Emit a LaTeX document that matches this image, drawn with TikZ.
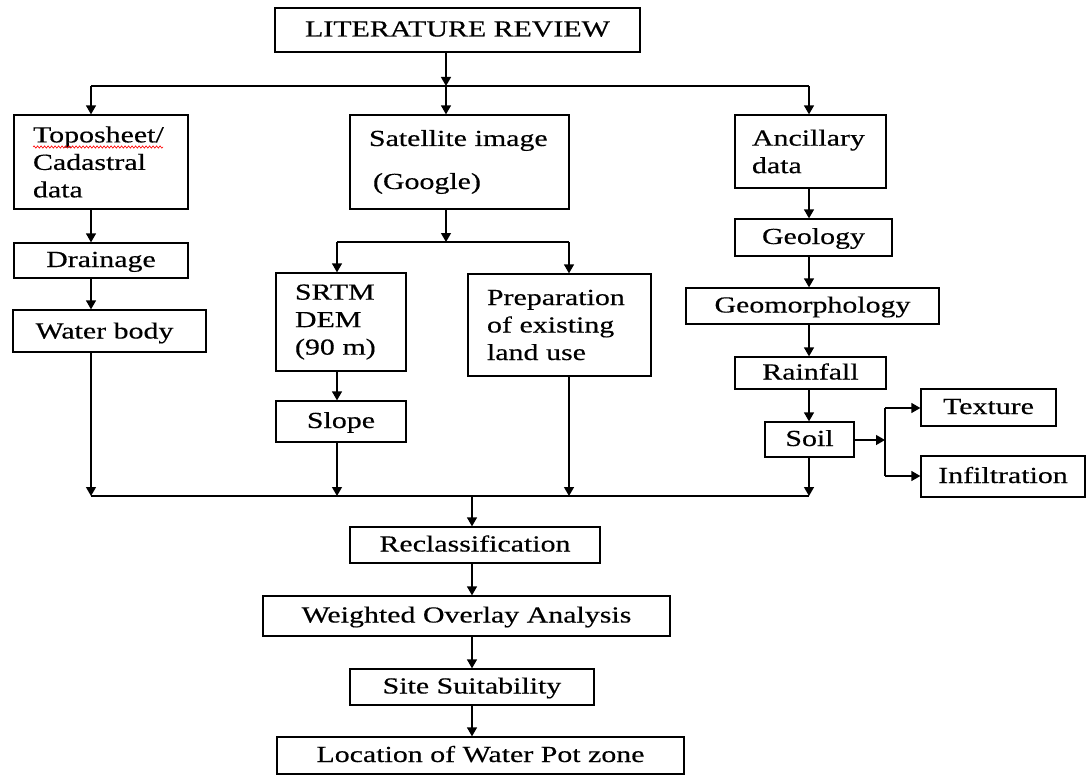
\documentclass[tikz,border=0pt]{standalone}
\usepackage{fontspec}
\setmainfont{Liberation Serif}[FakeStretch=1.3,FakeBold=0.4]
\usetikzlibrary{arrows.meta,decorations.pathmorphing}
\begin{document}
\begin{tikzpicture}[x=1pt,y=-1pt,
  frame/.style={draw, line width=1.3pt, inner sep=0pt, font=\fontsize{23}{27.5}\selectfont},
  box/.style={frame, text height=17pt, text depth=4pt},
  lbox/.style={frame, align=left, inner xsep=19pt},
  arr/.style={line width=1.3pt, -{Triangle[length=9pt,width=10pt]}},
  ln/.style={line width=1.3pt},
  squiggle/.style={red, line width=0.6pt, decorate, decoration={snake, amplitude=1.2pt, segment length=3.5pt}}]
\useasboundingbox[fill=white] (0,0) rectangle (1087,776);

% boxes
\node[box, minimum width=365pt, minimum height=44pt] (lr) at (457.5,30) {LITERATURE REVIEW};
\node[lbox, text width=136pt, minimum height=94pt] (topo) at (101,162) {Toposheet/\\Cadastral\\data};
\node[lbox, text width=181pt, minimum height=94pt] (sat) at (459.5,162) {Satellite image\\[15.5pt]\hspace*{4pt}(Google)};
\node[lbox, inner xsep=17pt, text width=117pt, minimum height=73pt] (anc) at (810.5,151.5) {Ancillary\\data};
\node[box, minimum width=174pt, minimum height=35pt] (drain) at (101,260.5) {Drainage};
\node[box, minimum width=193pt, minimum height=42pt, text height=19pt] (water) at (109.5,331) {Water body\hspace*{10pt}};
\node[lbox, text width=92pt, minimum height=98pt] (srtm) at (341,322) {SRTM\\DEM\\(90 m)};
\node[lbox, text width=145pt, minimum height=102pt] (prep) at (559.5,325) {Preparation\\of existing\\land use};
\node[box, minimum width=130pt, minimum height=41pt] (slope) at (341,421.5) {Slope};
\node[box, minimum width=157pt, minimum height=37pt] (geol) at (813.5,237.5) {Geology};
\node[box, minimum width=253pt, minimum height=36pt] (geom) at (812.5,306) {Geomorphology};
\node[box, minimum width=151pt, minimum height=32pt] (rain) at (810.5,373) {Rainfall};
\node[box, minimum width=89pt, minimum height=35pt] (soil) at (809.5,439.5) {Soil};
\node[box, minimum width=135pt, minimum height=37pt] (texture) at (988.5,407.5) {Texture};
\node[box, minimum width=164pt, minimum height=41pt] (infil) at (1003,476.5) {Infiltration};
\node[box, minimum width=250pt, minimum height=36pt] (recl) at (475,545) {Reclassification};
\node[box, minimum width=407pt, minimum height=40pt] (wei) at (466.5,616) {Weighted Overlay Analysis};
\node[box, minimum width=244pt, minimum height=36pt] (site) at (472,687) {Site Suitability};
\node[box, minimum width=407pt, minimum height=37pt] (loc) at (480.5,755.5) {Location of Water Pot zone};

% spell-check squiggle under Toposheet
\draw[squiggle] (33,147) -- (163,147);

% junction points
\coordinate (b1L) at (91,86);
\coordinate (b1M) at (446,86);
\coordinate (b1R) at (809,86);
\coordinate (b2L) at (337,242);
\coordinate (b2M) at (446,242);
\coordinate (b2R) at (569,242);
\coordinate (b3L) at (91,496);
\coordinate (b3S) at (337,496);
\coordinate (b3M) at (472,496);
\coordinate (b3P) at (569,496);
\coordinate (b3R) at (809,496);
\coordinate (sb) at (885,440);
\coordinate (sbT) at (885,408);
\coordinate (sbB) at (885,476);

% top distribution
\draw[arr] (lr.south -| b1M) -- (b1M);
\draw[ln] (b1L) -- (b1R);
\draw[arr] (b1L) -- (topo.north -| b1L);
\draw[arr] (b1M) -- (sat.north -| b1M);
\draw[arr] (b1R) -- (anc.north -| b1R);

% left column
\draw[arr] (topo.south -| b1L) -- (drain.north -| b1L);
\draw[arr] (drain.south -| b1L) -- (water.north -| b1L);
\draw[arr] (water.south -| b3L) -- (b3L);

% middle column
\draw[arr] (sat.south -| b2M) -- (b2M);
\draw[ln] (b2L) -- (b2R);
\draw[arr] (b2L) -- (srtm.north -| b2L);
\draw[arr] (b2R) -- (prep.north -| b2R);
\draw[arr] (srtm.south -| b2L) -- (slope.north -| b2L);
\draw[arr] (slope.south -| b3S) -- (b3S);
\draw[arr] (prep.south -| b3P) -- (b3P);

% right column
\draw[arr] (anc.south -| b1R) -- (geol.north -| b1R);
\draw[arr] (geol.south -| b1R) -- (geom.north -| b1R);
\draw[arr] (geom.south -| b1R) -- (rain.north -| b1R);
\draw[arr] (rain.south -| b1R) -- (soil.north -| b1R);
\draw[arr] (soil.south -| b3R) -- (b3R);

% soil branch
\draw[arr] (soil.east |- sb) -- (sb);
\draw[ln] (sbT) -- (sbB);
\draw[arr] (sbT) -- (texture.west |- sbT);
\draw[arr] (sbB) -- (infil.west |- sbB);

% bottom collection and chain
\draw[ln] (b3L) -- (b3R);
\draw[arr] (b3M) -- (recl.north -| b3M);
\draw[arr] (recl.south -| b3M) -- (wei.north -| b3M);
\draw[arr] (wei.south -| b3M) -- (site.north -| b3M);
\draw[arr] (site.south -| b3M) -- (loc.north -| b3M);
\end{tikzpicture}
\end{document}
